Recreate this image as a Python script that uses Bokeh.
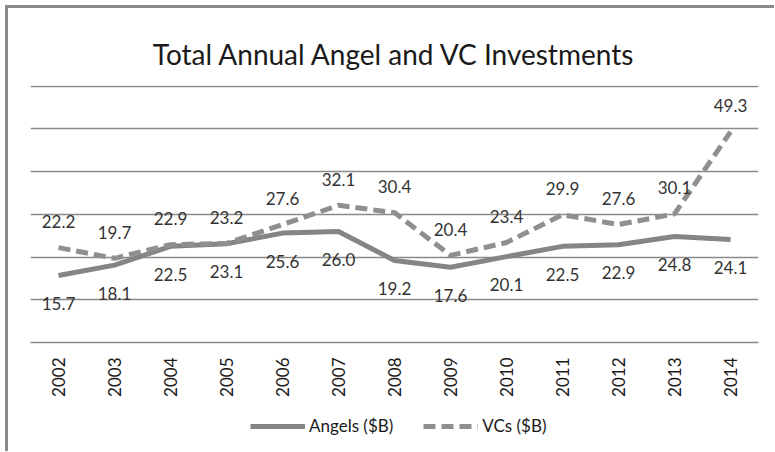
from bokeh.plotting import figure
from bokeh.layouts import column
from bokeh.models import (ColumnDataSource, LabelSet, Range1d, FactorRange, FixedTicker,
                          Legend, LegendItem)
from bokeh.core.properties import value
from bokeh.embed import file_html
from bokeh.resources import INLINE
from math import pi

years = ["2002", "2003", "2004", "2005", "2006", "2007", "2008",
         "2009", "2010", "2011", "2012", "2013", "2014"]
angels = [15.7, 18.1, 22.5, 23.1, 25.6, 26.0, 19.2, 17.6, 20.1, 22.5, 22.9, 24.8, 24.1]
vcs = [22.2, 19.7, 22.9, 23.2, 27.6, 32.1, 30.4, 20.4, 23.4, 29.9, 27.6, 30.1, 49.3]
grid_ticks = [0, 10, 20, 30, 40, 50, 60]
series_names = ["Angels ($B)", "VCs ($B)"]

FONT = "Lato"
GRAY = "#8a8a8a"
A_COLOR = "#858585"
V_COLOR = "#8f8f8f"
V_DASH = "12 6"

src = ColumnDataSource(dict(
    year=years, angels=angels, vcs=vcs,
    alab=["%.1f" % v for v in angels],
    vlab=["%.1f" % v for v in vcs],
))

p = figure(width=766, height=392, output_backend="svg", toolbar_location=None,
           x_range=FactorRange(*years), y_range=Range1d(0, 60.15),
           min_border_left=22, min_border_right=16, min_border_top=77,
           min_border_bottom=58, outline_line_color=None,
           title="Total Annual Angel and VC Investments")

p.title.align = "center"
p.title.text_font = FONT
p.title.text_font_size = "28px"
p.title.text_font_style = "normal"
p.title.text_color = "#1a1a1a"
p.title.text_line_height = 0.75
p.title.standoff = 30

p.yaxis.visible = False
p.xgrid.grid_line_color = None
p.ygrid.ticker = FixedTicker(ticks=grid_ticks)
p.ygrid.grid_line_color = GRAY
p.ygrid.grid_line_width = 1.5

ax = p.xaxis[0]
ax.axis_line_color = GRAY
ax.axis_line_width = 1.5
ax.major_tick_line_color = None
ax.minor_tick_line_color = None
ax.major_label_orientation = pi / 2
ax.major_label_standoff = 9
ax.major_label_text_font = FONT
ax.major_label_text_font_size = "17px"
ax.major_label_text_color = "#1a1a1a"

p.line("year", "angels", source=src, line_color=A_COLOR, line_width=5,
       line_join="round")
p.line("year", "vcs", source=src, line_color=V_COLOR, line_width=5,
       line_dash=V_DASH)

la = LabelSet(x="year", y="angels", text="alab", source=src, y_offset=-28,
              text_align="center", text_baseline="middle", text_font=value(FONT),
              text_font_size=value("17px"), text_color="#333333")
lv = LabelSet(x="year", y="vcs", text="vlab", source=src, y_offset=26,
              text_align="center", text_baseline="middle", text_font=value(FONT),
              text_font_size=value("17px"), text_color="#333333")
p.add_layout(la)
p.add_layout(lv)

# legend strip below the chart (same series, drawn outside this strip's visible range)
p2 = figure(width=766, height=51, output_backend="svg", toolbar_location=None,
            x_range=FactorRange(*years), y_range=Range1d(1000, 1001),
            min_border=0, outline_line_color=None)
p2.axis.visible = False
p2.grid.visible = False
ra = p2.line("year", "angels", source=src, line_color=A_COLOR, line_width=5)
rv = p2.line("year", "vcs", source=src, line_color=V_COLOR, line_width=5,
             line_dash=V_DASH)
legend = Legend(items=[LegendItem(label=series_names[0], renderers=[ra]),
                       LegendItem(label=series_names[1], renderers=[rv])],
                orientation="horizontal", location=(220, 15),
                border_line_color=None, background_fill_alpha=0,
                label_text_font=FONT, label_text_font_size="17px",
                label_text_color="#1a1a1a", glyph_width=55, glyph_height=20,
                label_standoff=4, spacing=30, padding=4, margin=0)
p2.add_layout(legend)

layout = column(p, p2, spacing=0)
layout.styles = {"border-top": "3px solid #8a8a8a", "border-left": "3px solid #8a8a8a",
                 "margin-left": "5px", "margin-top": "5px"}

open("out.html", "w").write(file_html(layout, INLINE))
